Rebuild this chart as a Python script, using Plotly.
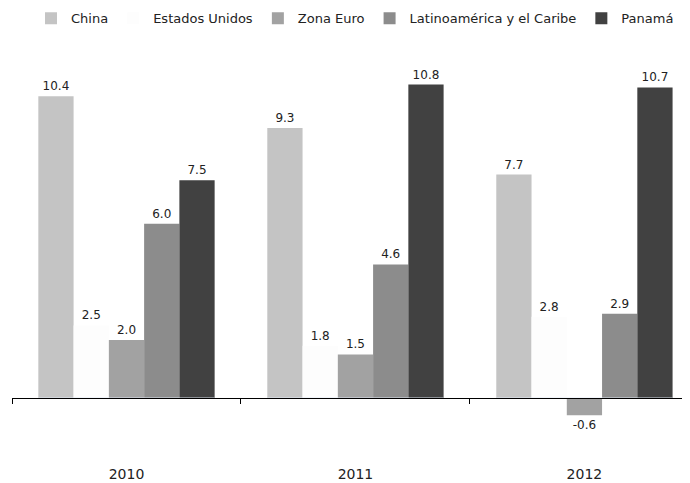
import plotly.graph_objects as go

years = ["2010", "2011", "2012"]
series = ["China", "Estados Unidos", "Zona Euro", "Latinoamérica y el Caribe", "Panamá"]
china = [10.4, 9.3, 7.7]
estados_unidos = [2.5, 1.8, 2.8]
zona_euro = [2.0, 1.5, -0.6]
latam = [6.0, 4.6, 2.9]
panama = [7.5, 10.8, 10.7]

values = [china, estados_unidos, zona_euro, latam, panama]
colors = ["#c4c4c4", "#fdfdfd", "#a2a2a2", "#8c8c8c", "#414141"]

fig = go.Figure()
for name, vals, col in zip(series, values, colors):
    fig.add_trace(go.Bar(
        x=years, y=vals, name=name,
        marker=dict(color=col, line=dict(width=0)),
        texttemplate="%{y:.1f}", textposition="outside",
        textfont=dict(size=12, color="#222222"),
        cliponaxis=False,
    ))

ymin, ymax = -2.0, 12.3
zero_pos = (0 - ymin) / (ymax - ymin)

# page body adds ~8px offset, so margins are shifted up/left to compensate
fig.update_layout(
    width=690, height=483,
    margin=dict(l=4, r=0, t=33, b=35, autoexpand=False),
    paper_bgcolor="white", plot_bgcolor="white",
    font=dict(family="DejaVu Sans", size=13, color="#222222"),
    barmode="group", bargap=0.23, bargroupgap=0,
    showlegend=True,
    legend=dict(orientation="h", x=0.5, xanchor="center", y=1.055, yanchor="middle",
                font=dict(size=13), itemwidth=30, tracegroupgap=0),
    xaxis=dict(type="category", categoryarray=years, range=[-0.5, 2.496],
               showline=False, ticks="", showgrid=False,
               ticklabelstandoff=8, tickfont=dict(size=14)),
    xaxis2=dict(type="category", categoryarray=years, overlaying="x", matches="x",
                anchor="free", position=zero_pos, side="bottom",
                showline=True, linecolor="black", linewidth=1,
                ticks="outside", tickson="boundaries", ticklen=5, tickcolor="black",
                showticklabels=False, showgrid=False),
    yaxis=dict(range=[ymin, ymax], visible=False, showgrid=False, zeroline=False),
)

# invisible trace so the zero-line axis gets drawn
fig.add_trace(go.Bar(x=years, y=[0, 0, 0], xaxis="x2", showlegend=False,
                     marker=dict(color="rgba(0,0,0,0)"), hoverinfo="skip"))

fig.write_html("out.html")
